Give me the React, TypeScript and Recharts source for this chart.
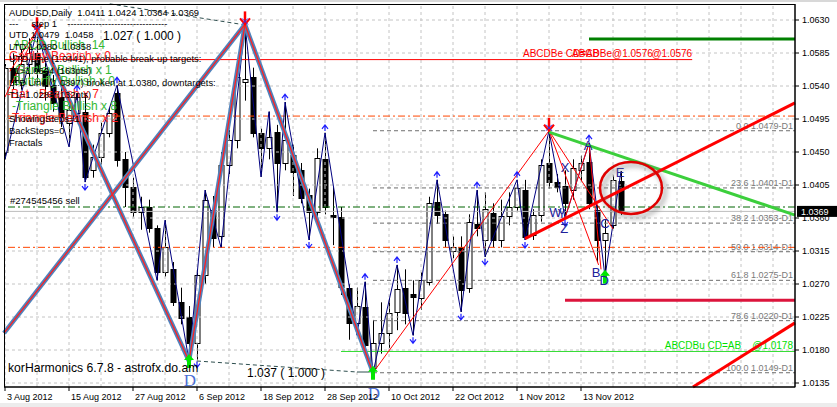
import React from "react";
import { ComposedChart, Bar, Line, XAxis, YAxis, ReferenceLine, ReferenceDot } from "recharts";

const W = 837;
const H = 407;
const FONT = "'Liberation Sans', Arial, sans-serif";

// AUDUSD daily bars, bar 0 = 3 Aug 2012 (one index per trading day)
const opens = [
  1.0450, 1.0565, 1.0545, 1.0570, 1.0585, 1.0560, 1.0540, 1.0525, 1.0490, 1.0503,
  1.0505, 1.0425, 1.0443, 1.0476, 1.0530, 1.0440, 1.0402, 1.0368, 1.0375, 1.0346,
  1.0286, 1.0290, 1.0245, 1.0225, 1.0190, 1.0282, 1.0371, 1.0335, 1.0432, 1.0466,
  1.0545, 1.0552, 1.0476, 1.0455, 1.0477, 1.0435, 1.0446, 1.0425, 1.0391, 1.0368,
  1.0440, 1.0364, 1.0361, 1.0264, 1.0217, 1.0239, 1.0155, 1.0190, 1.0203, 1.0232,
  1.0264, 1.0256, 1.0251, 1.0273, 1.0382, 1.0365, 1.0315, 1.0320, 1.0264, 1.0352,
  1.0330, 1.0367, 1.0330, 1.0363, 1.0375, 1.0398, 1.0337, 1.0364, 1.0435, 1.0409,
  1.0404, 1.0398, 1.0425, 1.0436, 1.0371, 1.0330, 1.0350, 1.0411,
];
const highs = [
  1.0570, 1.0585, 1.0590, 1.0605, 1.0616, 1.0572, 1.0555, 1.0545, 1.0520, 1.0530,
  1.0530, 1.0460, 1.0490, 1.0510, 1.0541, 1.0450, 1.0415, 1.0389, 1.0385, 1.0350,
  1.0357, 1.0300, 1.0265, 1.0240, 1.0290, 1.0398, 1.0390, 1.0450, 1.0480, 1.0575,
  1.0624, 1.0565, 1.0482, 1.0505, 1.0487, 1.0518, 1.0460, 1.0435, 1.0400, 1.0455,
  1.0476, 1.0402, 1.0375, 1.0270, 1.0265, 1.0273, 1.0221, 1.0245, 1.0250, 1.0296,
  1.0290, 1.0275, 1.0286, 1.0389, 1.0412, 1.0370, 1.0335, 1.0335, 1.0365, 1.0398,
  1.0395, 1.0380, 1.0385, 1.0395, 1.0412, 1.0412, 1.0372, 1.0440, 1.0479, 1.0420,
  1.0425, 1.0440, 1.0445, 1.0462, 1.0378, 1.0357, 1.0418, 1.0424,
];
const lows = [
  1.0440, 1.0535, 1.0535, 1.0550, 1.0545, 1.0520, 1.0505, 1.0484, 1.0457, 1.0495,
  1.0409, 1.0415, 1.0433, 1.0470, 1.0430, 1.0375, 1.0361, 1.0344, 1.0340, 1.0275,
  1.0280, 1.0240, 1.0215, 1.0165, 1.0167, 1.0270, 1.0320, 1.0320, 1.0420, 1.0455,
  1.0520, 1.0470, 1.0416, 1.0440, 1.0368, 1.0425, 1.0390, 1.0380, 1.0330, 1.0355,
  1.0365, 1.0323, 1.0255, 1.0194, 1.0200, 1.0175, 1.0149, 1.0175, 1.0183, 1.0207,
  1.0215, 1.0200, 1.0235, 1.0268, 1.0352, 1.0320, 1.0305, 1.0232, 1.0258, 1.0335,
  1.0307, 1.0320, 1.0320, 1.0350, 1.0368, 1.0330, 1.0330, 1.0355, 1.0400, 1.0395,
  1.0360, 1.0385, 1.0410, 1.0372, 1.0300, 1.0280, 1.0345, 1.0364,
];
const closes = [
  1.0565, 1.0545, 1.0570, 1.0585, 1.0560, 1.0540, 1.0517, 1.0498, 1.0507, 1.0525,
  1.0416, 1.0443, 1.0476, 1.0503, 1.0439, 1.0402, 1.0368, 1.0375, 1.0346, 1.0286,
  1.0320, 1.0245, 1.0224, 1.0190, 1.0282, 1.0385, 1.0333, 1.0432, 1.0466, 1.0552,
  1.0550, 1.0476, 1.0455, 1.0470, 1.0435, 1.0466, 1.0423, 1.0387, 1.0368, 1.0442,
  1.0375, 1.0361, 1.0266, 1.0217, 1.0240, 1.0187, 1.0190, 1.0203, 1.0230, 1.0263,
  1.0230, 1.0252, 1.0275, 1.0380, 1.0364, 1.0330, 1.0320, 1.0262, 1.0355, 1.0346,
  1.0372, 1.0330, 1.0363, 1.0375, 1.0401, 1.0334, 1.0364, 1.0432, 1.0409, 1.0402,
  1.0380, 1.0428, 1.0435, 1.0380, 1.0330, 1.0340, 1.0412, 1.0369,
];

const tickBars = [0, 8, 16, 24, 32, 40, 48, 56, 64, 72];
const tickDates = [
  "3 Aug 2012", "15 Aug 2012", "27 Aug 2012", "6 Sep 2012", "18 Sep 2012",
  "28 Sep 2012", "10 Oct 2012", "22 Oct 2012", "1 Nov 2012", "13 Nov 2012",
];
const priceTicks = [1.0135, 1.018, 1.0225, 1.027, 1.0315, 1.036, 1.0405, 1.045, 1.0495, 1.054, 1.0585, 1.063];
const gridBars = Array.from({ length: 25 }, (_, k) => k * 4);

// zigzag pivots [bar, price]
const zigzag = [
  [0, 1.0440], [4, 1.0616], [8, 1.0457], [9, 1.0530], [10, 1.0409], [14, 1.0541], [19, 1.0275],
  [20, 1.0357], [23, 1.0165], [25, 1.0398], [27, 1.0320], [30, 1.0624], [32, 1.0416], [33, 1.0505],
  [34, 1.0368], [35, 1.0518], [38, 1.0330], [40, 1.0476], [44, 1.0200], [45, 1.0273], [46, 1.0149],
  [49, 1.0296], [51, 1.0200], [54, 1.0412], [57, 1.0232], [59, 1.0398], [60, 1.0307], [64, 1.0412],
  [65, 1.0330], [68, 1.0479], [70, 1.0360], [73, 1.0462], [75, 1.0280], [77, 1.0424],
];

// harmonic legs (thick) and pattern lines (thin)
const harmonicLegs = [
  [[-0.125, 1.0203], [30, 1.0624]],
  [[4, 1.0616], [23, 1.0165]],
  [[23, 1.0165], [30, 1.0624]],
  [[30, 1.0624], [46, 1.0149]],
];
const patternLines = [
  [[46, 1.0149], [68, 1.0479]],
  [[68, 1.0479], [74.2, 1.0296]],
  [[68, 1.0479], [76, 1.0345]],
  [[70, 1.0360], [73, 1.0462]],
  [[73, 1.0462], [74.5, 1.0290]],
  [[0, 1.0525], [4, 1.0616]],
  [[0.6, 1.0560], [4, 1.0616]],
];
const redTrend = [[65, 1.0332], [98.75, 1.0517]];
const redTrend2 = [[86, 1.01296], [98.75, 1.0217]];
const greenTrend = [[68, 1.0477], [98.75, 1.0364]];
const projTop = [[13.1, 1.0652], [29.6, 1.0624]];
const projBottom = [[24, 1.0165], [44, 1.0150], [45.6, 1.0150]];

// levels
const breakUpLevel = 1.0576;
const orangeLevels = [1.0499, 1.0320];
const sellLevel = 1.0375;
const bidLevel = 1.0369;
const bullTarget = { from: 42, price: 1.0178 };
const upTarget = { from: 73, price: 1.0604 };
const downTarget = { from: 70, price: 1.0248 };
const fibFrom = 46;
const fibPct = ["0.0", "23.6", "38.2", "50.0", "61.8", "78.6", "100.0"];
const fibPrices = [1.0479, 1.0401, 1.0353, 1.0314, 1.0275, 1.0220, 1.0149];

// markers
const fractalUps = [[9, 1.0530], [14, 1.0541], [35, 1.0518], [40, 1.0476], [45, 1.0273], [49, 1.0296], [54, 1.0412], [59, 1.0398], [64, 1.0412], [73, 1.0462]];
const fractalDowns = [[10, 1.0409], [24, 1.0167], [34, 1.0368], [38, 1.0330], [51, 1.0200], [57, 1.0232], [60, 1.0307], [65, 1.0330], [70, 1.0360]];
const peakArrows = [[4, 1.0616], [30, 1.0624], [68, 1.0479]];
const lowArrows = [[23, 1.0165], [46, 1.0149], [75, 1.0280]];
const bigD = [[23.1, 1.0139], [46.1, 1.0121]];
const letters = [
  ["A", 72.9, 1.0460], ["X", 70, 1.0430], ["W", 68.8, 1.0368], ["Y", 69.6, 1.0367], ["Z", 69.9, 1.0346],
  ["C", 75, 1.0353], ["B", 73.9, 1.0286], ["D", 74.9, 1.02755], ["E", 76.9, 1.0423],
];
const circleAt = [78.25, 1.0401];

const candles = opens.map((o, i) => ({ i, o, h: highs[i], l: lows[i], c: closes[i] }));
const pts = (arr: number[][]) => arr.map(([i, p]) => ({ i, p }));
const seg = (s: number[][]) => [{ x: s[0][0], y: s[0][1] }, { x: s[1][0], y: s[1][1] }];

const Candle = (props: any) => {
  const { x, y, width, height, payload } = props;
  const { o, h, l, c } = payload;
  const top = Math.min(y, y + height);
  const bot = Math.max(y, y + height);
  const py = (v: number) => (h === l ? top : top + ((h - v) / (h - l)) * (bot - top));
  const cx = Math.round(x + width / 2) + 0.5;
  const bt = Math.round(py(Math.max(o, c))) + 0.5;
  const bb = Math.max(Math.round(py(Math.min(o, c))) + 0.5, bt + 1);
  return (
    <g>
      <line x1={cx} x2={cx} y1={top} y2={bot} stroke="#000" strokeWidth={1} />
      <rect x={cx - 2.5} y={bt} width={5} height={bb - bt} fill={c >= o ? "#fff" : "#000"} stroke="#000" strokeWidth={1} />
    </g>
  );
};

const DateTick = ({ x, y, payload }: any) => {
  const k = tickBars.indexOf(payload.value);
  return (
    <text x={x + 2} y={y + 7} fontSize={9} fontFamily={FONT} fill="#000" textAnchor="start">
      {k >= 0 ? tickDates[k] : ""}
    </text>
  );
};

const aboveRight = (text: string, color: string, size = 9) => (props: any) => {
  const vb = props.viewBox;
  return (
    <text x={vb.x + vb.width - 2} y={vb.y - 2} textAnchor="end" fontSize={size} fill={color} fontFamily={FONT} xmlSpace="preserve">
      {text}
    </text>
  );
};

const priceBox = (props: any) => {
  const vb = props.viewBox;
  const x = vb.x + vb.width + 2;
  return (
    <g>
      <rect x={x} y={vb.y - 5.5} width={40} height={11} fill="#000" />
      <text x={x + 4} y={vb.y + 4} fill="#fff" fontSize={9} fontFamily={FONT}>{bidLevel.toFixed(4)}</text>
    </g>
  );
};

const sellLabel = (props: any) => {
  const vb = props.viewBox;
  return (
    <text x={vb.x + 6} y={vb.y - 3} fontSize={9.5} fill="#000" fontFamily={FONT}>#274545456 sell</text>
  );
};

const breakUpLabel = (props: any) => {
  const vb = props.viewBox;
  const end = vb.x + vb.width;
  return (
    <g fontSize={10} fill="#ff0000" fontFamily={FONT}>
      <text x={vb.x + 519} y={vb.y - 3}>ABCDBe CD=AB</text>
      <text x={end} y={vb.y - 3} textAnchor="end">@1.0576</text>
      <text x={vb.x + 568} y={vb.y - 3}>ABCDBe@1.0576</text>
    </g>
  );
};

const chevUp = (p: any) => (
  <path d={`M${p.cx - 3},${p.cy - 4} L${p.cx},${p.cy - 8} L${p.cx + 3},${p.cy - 4} M${p.cx},${p.cy - 8} L${p.cx},${p.cy - 2}`} stroke="#1c1cff" strokeWidth={1.2} fill="none" />
);
const chevDown = (p: any) => (
  <path d={`M${p.cx - 3},${p.cy + 4} L${p.cx},${p.cy + 8} L${p.cx + 3},${p.cy + 4} M${p.cx},${p.cy + 8} L${p.cx},${p.cy + 2}`} stroke="#1c1cff" strokeWidth={1.2} fill="none" />
);
const peakArrow = (p: any) => (
  <g>
    <line x1={p.cx} x2={p.cx} y1={p.cy - 13} y2={p.cy - 1} stroke="#ff0000" strokeWidth={2.5} />
    <path d={`M${p.cx - 5},${p.cy - 6} L${p.cx},${p.cy} L${p.cx + 5},${p.cy - 6}`} stroke="#ff0000" strokeWidth={2} fill="none" />
    <path d={`M${p.cx - 3},${p.cy - 6} L${p.cx + 3},${p.cy} M${p.cx + 3},${p.cy - 6} L${p.cx - 3},${p.cy}`} stroke="#2030ff" strokeWidth={1} />
  </g>
);
const lowArrow = (p: any) => (
  <polygon
    points={`${p.cx},${p.cy - 7} ${p.cx - 5},${p.cy - 1} ${p.cx - 2},${p.cy - 1} ${p.cx - 2},${p.cy + 7} ${p.cx + 2},${p.cy + 7} ${p.cx + 2},${p.cy - 1} ${p.cx + 5},${p.cy - 1}`}
    fill="#00e600"
  />
);
const serifD = (p: any) => (
  <text x={p.cx} y={p.cy + 6} textAnchor="middle" fontSize={17} fill="#4a6fd6" fontFamily="'Liberation Serif', 'DejaVu Serif', serif">D</text>
);
const letter = (t: string) => (p: any) => (
  <text x={p.cx} y={p.cy + 5} textAnchor="middle" fontSize={13} fill="#20209a" fontFamily={FONT}>{t}</text>
);
const ellipse = (p: any) => (
  <g>
    <defs>
      <filter id="ellShadow" x="-40%" y="-40%" width="180%" height="180%">
        <feGaussianBlur stdDeviation="2.5" />
      </filter>
    </defs>
    <ellipse cx={p.cx + 3} cy={p.cy + 3} rx={31} ry={26} stroke="#777" strokeWidth={4} fill="none" opacity={0.55} filter="url(#ellShadow)" />
    <ellipse cx={p.cx} cy={p.cy} rx={31} ry={26} stroke="#e00000" strokeWidth={2.5} fill="none" />
  </g>
);

const grid = { stroke: "#c4c4c4", strokeDasharray: "3 3" };
const dashDot = "7 3 2 3";

const hud = [
  ["AUDUSD,Daily  1.0411 1.0424 1.0364 1.0369", 9, 16],
  ["---     step 1    --------------------------------", 9, 27],
  ["UTD 1.0479  1.0458", 9, 38],
  ["LTD 1.0380  1.0358", 9, 49.5],
  ["UTD Line (1.0441), probable break-up targets:", 9, 62],
  ["T1=1.0604 (163pts)", 9, 74],
  ["LTD Line (1.0397) broken at 1.0380, downtargets:", 9, 86],
  ["T1=1.0284 (132pts)", 9, 97.5],
  ["ShowingSteps=1", 9, 122],
  ["BackSteps=0", 9, 134],
  ["Fractals", 9, 146],
];
const hudPatterns = [
  ["ABCD Bullish  14", 13, 49, "#33b833"],
  ["Gartley Bearish x 0", 9, 59.5, "#ff2020"],
  ["Gartley Bullish x 1", 15, 73.5, "#33b833"],
  ["Butterfly Bullish x 0", 13, 85, "#33b833"],
  ["-Bat   Bearish x 7", 7, 97.5, "#ff2020"],
  ["-Triangle Bullish x 8", 12, 110, "#33b833"],
  ["-Triangle Bearish x 2", 8, 121.5, "#ff2020"],
];

export default function App() {
  return (
    <div style={{ position: "absolute", left: 0, top: 0, width: W, height: H, background: "#fff", overflow: "hidden" }}>
      <ComposedChart width={W} height={H} data={candles} margin={{ top: 4, right: 0, bottom: 0, left: 4 }} style={{ fontFamily: FONT }}>
        <XAxis
          type="number"
          dataKey="i"
          domain={[-0.125, 98.75]}
          allowDataOverflow
          ticks={tickBars}
          interval={0}
          height={20}
          tickSize={4}
          tickMargin={2}
          axisLine={{ stroke: "#000" }}
          tickLine={{ stroke: "#000" }}
          tick={<DateTick />}
        />
        <YAxis
          orientation="right"
          type="number"
          domain={[1.012955, 1.065182]}
          allowDataOverflow
          ticks={priceTicks}
          interval={0}
          width={42}
          tickSize={4}
          tickMargin={3}
          axisLine={{ stroke: "#000" }}
          tickLine={{ stroke: "#000" }}
          tick={{ fill: "#000", fontSize: 9, fontFamily: FONT }}
          tickFormatter={(v: number) => v.toFixed(4)}
        />

        {gridBars.map((b) => (
          <ReferenceLine key={`gx${b}`} x={b} {...grid} ifOverflow="visible" />
        ))}
        {priceTicks.map((p) => (
          <ReferenceLine key={`gy${p}`} y={p} {...grid} />
        ))}

        {fibPrices.map((p, k) => (
          <ReferenceLine
            key={`fib${k}`}
            segment={[{ x: fibFrom, y: p }, { x: 98.75, y: p }]}
            stroke="#6e6e6e"
            strokeDasharray="4 3"
            ifOverflow="visible"
            label={aboveRight(`${fibPct[k]} ${p.toFixed(4)}-D1`, "#7a7a7a")}
          />
        ))}
        <ReferenceLine y={bidLevel} stroke="#bdbdbd" label={priceBox} />
        {orangeLevels.map((p) => (
          <ReferenceLine key={`or${p}`} y={p} stroke="#ff4500" strokeDasharray={dashDot} />
        ))}
        <ReferenceLine y={sellLevel} stroke="#006400" strokeDasharray={dashDot} label={sellLabel} />
        <ReferenceLine segment={[{ x: -0.125, y: breakUpLevel }, { x: 85.9, y: breakUpLevel }]} stroke="#ff0000" ifOverflow="visible" label={breakUpLabel} />
        <ReferenceLine
          segment={[{ x: bullTarget.from, y: bullTarget.price }, { x: 98.75, y: bullTarget.price }]}
          stroke="#33dd33"
          ifOverflow="visible"
          label={aboveRight("ABCDBu CD=AB    @1.0178", "#00e000", 10)}
        />
        <ReferenceLine segment={[{ x: upTarget.from, y: upTarget.price }, { x: 98.75, y: upTarget.price }]} stroke="#008000" strokeWidth={3} ifOverflow="visible" />
        <ReferenceLine segment={[{ x: downTarget.from, y: downTarget.price }, { x: 98.75, y: downTarget.price }]} stroke="#dc143c" strokeWidth={3} ifOverflow="visible" />

        <ReferenceLine segment={seg(projTop)} stroke="#2f4f4f" strokeDasharray="4 3" ifOverflow="visible" />
        <ReferenceLine segment={seg(projBottom)} stroke="#2f4f4f" strokeDasharray="4 3" ifOverflow="visible" />
        <ReferenceLine segment={seg(projBottom.slice(1))} stroke="#2f4f4f" ifOverflow="visible" />

        <Bar dataKey={(d: any) => [d.l, d.h]} barSize={5} shape={<Candle />} isAnimationActive={false} />

        <Line data={pts(zigzag)} dataKey="p" stroke="#000080" strokeWidth={1} dot={false} isAnimationActive={false} />

        {harmonicLegs.map((s, k) => (
          <ReferenceLine key={`hb${k}`} segment={seg(s)} stroke="#4f83bd" strokeWidth={4.5} ifOverflow="visible" />
        ))}
        {harmonicLegs.map((s, k) => (
          <ReferenceLine key={`hr${k}`} segment={seg(s)} stroke="#ff2020" strokeWidth={1.3} ifOverflow="visible" />
        ))}
        {patternLines.map((s, k) => (
          <ReferenceLine key={`pl${k}`} segment={seg(s)} stroke="#ff0000" strokeWidth={1} ifOverflow="visible" />
        ))}
        <ReferenceLine segment={seg(greenTrend)} stroke="#3ccf3c" strokeWidth={3} ifOverflow="visible" />
        <ReferenceLine segment={seg(redTrend)} stroke="#ff0000" strokeWidth={3} ifOverflow="visible" />
        <ReferenceLine segment={seg(redTrend2)} stroke="#ff0000" strokeWidth={3} ifOverflow="visible" />

        {fractalUps.map(([i, p]) => (
          <ReferenceDot key={`fu${i}`} x={i} y={p} r={0} shape={chevUp} ifOverflow="visible" />
        ))}
        {fractalDowns.map(([i, p]) => (
          <ReferenceDot key={`fd${i}`} x={i} y={p} r={0} shape={chevDown} ifOverflow="visible" />
        ))}
        {peakArrows.map(([i, p]) => (
          <ReferenceDot key={`pa${i}`} x={i} y={p} r={0} shape={peakArrow} ifOverflow="visible" />
        ))}
        {lowArrows.map(([i, p]) => (
          <ReferenceDot key={`la${i}`} x={i} y={p} r={0} shape={lowArrow} ifOverflow="visible" />
        ))}
        {bigD.map(([i, p]) => (
          <ReferenceDot key={`bd${i}`} x={i} y={p} r={0} shape={serifD} ifOverflow="hidden" />
        ))}
        {letters.map(([t, i, p]) => (
          <ReferenceDot key={`lt${t}`} x={i as number} y={p as number} r={0} shape={letter(t as string)} ifOverflow="visible" />
        ))}
        <ReferenceDot x={circleAt[0]} y={circleAt[1]} r={0} shape={ellipse} ifOverflow="visible" />
      </ComposedChart>

      <svg width={W} height={H} style={{ position: "absolute", left: 0, top: 0, pointerEvents: "none" }}>
        <rect x={0} y={0} width={W} height={2} fill="#d8d8d8" />
        <rect x={0} y={H - 4} width={W} height={4} fill="#ececec" />
        <rect x={4.5} y={4.5} width={790.5} height={382.5} fill="none" stroke="#000" strokeWidth={1} />
        {hudPatterns.map(([t, x, y, c]) => (
          <text key={t as string} x={x as number} y={y as number} fontSize={12} fill={c as string} fontFamily={FONT} xmlSpace="preserve">
            {t}
          </text>
        ))}
        {hud.map(([t, x, y]) => (
          <text key={t as string} x={x as number} y={y as number} fontSize={9.4} fill="#000" fontFamily={FONT} xmlSpace="preserve">
            {t}
          </text>
        ))}
        <text x={103} y={40} fontSize={12} fill="#000" fontFamily={FONT} xmlSpace="preserve">1.027 ( 1.000 )</text>
        <text x={247} y={377} fontSize={12} fill="#000" fontFamily={FONT} xmlSpace="preserve">1.037 ( 1.000 )</text>
        <text x={8} y={372} fontSize={12.2} fill="#000" fontFamily={FONT}>korHarmonics 6.7.8 - astrofx.do.am</text>
      </svg>
    </div>
  );
}
